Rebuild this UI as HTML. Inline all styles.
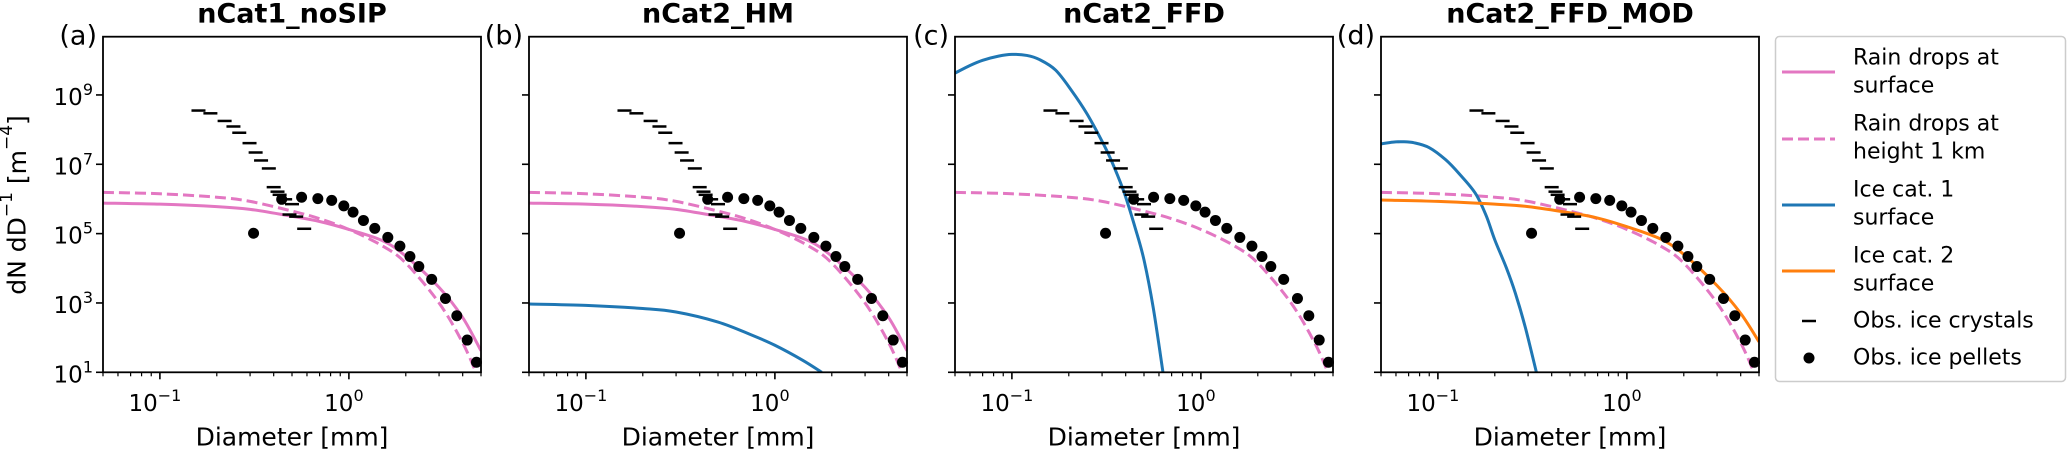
<!DOCTYPE html>
<html><head><meta charset="utf-8">
<style>
body{margin:0;background:#fff;}
svg{display:block;font-family:"DejaVu Sans","Liberation Sans",sans-serif;}
</style></head>
<body>
<svg id="chart" width="2067" height="450" viewBox="0 0 2067 450" xmlns="http://www.w3.org/2000/svg">
<g id="panels"></g>
<text x="17" y="205" transform="rotate(-90 17 205)" text-anchor="middle" dominant-baseline="central" font-size="25">dN dD<tspan dy="-10" font-size="17">−1</tspan><tspan dy="10"> [m</tspan><tspan dy="-10" font-size="17">−4</tspan><tspan dy="10">]</tspan></text>
<g>
<rect x="1775.5" y="36.5" width="290" height="345" rx="4" fill="#fff" stroke="#ccc" stroke-width="1.5"/>
<g>
<line x1="1782" y1="72" x2="1835" y2="72" stroke="#e377c2" stroke-width="3"/>
<text x="1853" y="58" font-size="22" dominant-baseline="central">Rain drops at</text>
<text x="1853" y="86" font-size="22" dominant-baseline="central">surface</text></g>
<g>
<line x1="1782" y1="139" x2="1835" y2="139" stroke="#e377c2" stroke-width="3" stroke-dasharray="11,5"/>
<text x="1853" y="124" font-size="22" dominant-baseline="central">Rain drops at</text>
<text x="1853" y="152" font-size="22" dominant-baseline="central">height 1 km</text></g>
<g>
<line x1="1782" y1="205" x2="1835" y2="205" stroke="#1f77b4" stroke-width="3"/>
<text x="1853" y="190" font-size="22" dominant-baseline="central">Ice cat. 1</text>
<text x="1853" y="218" font-size="22" dominant-baseline="central">surface</text></g>
<g>
<line x1="1782" y1="271" x2="1835" y2="271" stroke="#ff7f0e" stroke-width="3"/>
<text x="1853" y="256" font-size="22" dominant-baseline="central">Ice cat. 2</text>
<text x="1853" y="284" font-size="22" dominant-baseline="central">surface</text></g>
<g>
<line x1="1802" y1="321" x2="1816" y2="321" stroke="#000" stroke-width="2.5"/>
<text x="1853" y="321" font-size="22" dominant-baseline="central">Obs. ice crystals</text></g>
<g>
<circle cx="1809" cy="358" r="5.5" fill="#000"/>
<text x="1853" y="358" font-size="22" dominant-baseline="central">Obs. ice pellets</text></g>
</g>
</svg>
<script>
// ---- data ----
const panelTitles = ["nCat1_noSIP","nCat2_HM","nCat2_FFD","nCat2_FFD_MOD"];
const panelLabels = ["(a)","(b)","(c)","(d)"];
const xTickValues = [0.1, 1];
const xTickLabels = ["−1","0"];
const yTickValues = [1,3,5,7,9];
const yTickLabels = ["1","3","5","7","9"];
// observed ice crystals: diameter (mm), log10 N
const crystalD = [0.16,0.185,0.22,0.245,0.263,0.298,0.321,0.343,0.377,0.40,0.419,0.43,0.46,0.50,0.485,0.526,0.58];
const crystalLogN = [8.55,8.47,8.25,8.09,7.91,7.61,7.34,7.11,6.88,6.34,6.21,6.12,5.99,5.85,5.55,5.49,5.14];
// observed ice pellets
const pelletD = [0.313,0.441,0.562,0.685,0.811,0.94,1.052,1.194,1.371,1.607,1.862,2.104,2.344,2.742,3.243,3.724,4.227,4.732];
const pelletLogN = [5.01,5.99,6.05,6.01,5.96,5.80,5.62,5.38,5.15,4.89,4.64,4.34,4.05,3.68,3.13,2.63,1.93,1.29];
// rain drops at surface
const rainSurfD = [0.05,0.1,0.2,0.3,0.5,0.7,1.0,1.5,2.0,3.0,4.0,5.0];
const rainSurfLogN = [5.88,5.85,5.78,5.70,5.50,5.35,5.12,4.80,4.35,3.45,2.58,1.62];
// rain drops at height 1 km
const rain1kmD = [0.05,0.1,0.2,0.3,0.5,0.7,1.0,1.5,2.0,3.0,4.0,4.7];
const rain1kmLogN = [6.19,6.15,6.05,5.93,5.65,5.43,5.12,4.65,4.15,3.00,1.85,1.0];
// ice cat 1 surface per panel
const iceHMD = [0.05,0.1,0.2,0.3,0.5,0.75,1.0,1.4,1.77];
const iceHMLogN = [2.97,2.93,2.84,2.74,2.45,2.08,1.78,1.35,1.0];
const iceFFDD = [0.05,0.06,0.07,0.085,0.1,0.12,0.14,0.17,0.206,0.25,0.31,0.35,0.394,0.45,0.5,0.56,0.63];
const iceFFDLogN = [9.63,9.85,10.0,10.12,10.17,10.14,10.02,9.72,9.14,8.45,7.51,6.88,6.16,5.15,4.24,2.85,1.0];
const iceMODD = [0.05,0.058,0.065,0.075,0.09,0.11,0.13,0.158,0.18,0.2,0.23,0.257,0.29,0.332];
const iceMODLogN = [7.59,7.64,7.65,7.62,7.48,7.13,6.72,6.16,5.52,4.82,4.02,3.28,2.30,1.0];
// ice cat 2 surface (panel d)
const ice2D = [0.05,0.1,0.2,0.3,0.5,0.7,1.0,1.5,2.0,3.0,4.0,5.0];
const ice2LogN = [5.97,5.93,5.85,5.78,5.60,5.45,5.20,4.85,4.40,3.50,2.70,1.88];

// ---- layout ----
const NS = "http://www.w3.org/2000/svg";
const panelLeft = [103,529,955,1381];
const PW = 378, TOP = 36.7, BOT = 372.3;
const XMIN = Math.log10(0.05), XMAX = Math.log10(5), YMIN = 1, YMAX = 10.68;
function mk(tag, attrs, parent){const e=document.createElementNS(NS,tag);for(const k in attrs)e.setAttribute(k,attrs[k]);parent.appendChild(e);return e;}
function sx(p, d){return panelLeft[p] + (Math.log10(d)-XMIN)/(XMAX-XMIN)*PW;}
function sy(l){return BOT - (l-YMIN)/(YMAX-YMIN)*(BOT-TOP);}
function smoothPath(pts){
  let d = "M"+pts[0][0].toFixed(2)+","+pts[0][1].toFixed(2);
  for(let i=0;i<pts.length-1;i++){
    const p0=pts[Math.max(0,i-1)],p1=pts[i],p2=pts[i+1],p3=pts[Math.min(pts.length-1,i+2)];
    const c1=[p1[0]+(p2[0]-p0[0])/6,p1[1]+(p2[1]-p0[1])/6];
    const c2=[p2[0]-(p3[0]-p1[0])/6,p2[1]-(p3[1]-p1[1])/6];
    d+=" C"+c1[0].toFixed(2)+","+c1[1].toFixed(2)+" "+c2[0].toFixed(2)+","+c2[1].toFixed(2)+" "+p2[0].toFixed(2)+","+p2[1].toFixed(2);
  }
  return d;
}
const root = document.getElementById("panels");
function curve(g,p,xs,ys,color,dash,name){
  const pts = xs.map((x,i)=>[sx(p,x),sy(ys[i])]);
  const el = mk("path",{d:smoothPath(pts),fill:"none",stroke:color,"stroke-width":3},g);
  if(dash) el.setAttribute("stroke-dasharray",dash);
  
  
}
for(let p=0;p<4;p++){
  const g = mk("g",{},root);
  
  
  const L = panelLeft[p];
  const cid = "clip"+p;
  const cp = mk("clipPath",{id:cid},g);
  mk("rect",{x:L,y:TOP,width:PW,height:BOT-TOP},cp);
  const t = mk("text",{x:L+PW/2,y:14,"text-anchor":"middle","dominant-baseline":"central","font-size":27,"font-weight":"bold"},g);
  t.textContent = panelTitles[p];
  
  
  const lb = mk("text",{x:L-6,y:36,"text-anchor":"end","dominant-baseline":"central","font-size":27},g);
  lb.textContent = panelLabels[p];
  
  
  for(let dec=-2;dec<=0;dec++){
    for(let m=1;m<=9;m++){
      const v=m*Math.pow(10,dec);
      if(v<0.0499||v>5.01) continue;
      const x=sx(p,v), major=(m===1);
      const tk=mk("line",{x1:x,y1:BOT,x2:x,y2:BOT+(major?7:4),stroke:"#000","stroke-width":major?1.6:1.2},g);
      
      
    }
  }
  xTickValues.forEach((v,i)=>{
    const tx=mk("text",{x:sx(p,v)-5,y:404,"text-anchor":"middle","dominant-baseline":"central","font-size":23},g);
    tx.innerHTML = "10<tspan dy='-9' font-size='16'>"+xTickLabels[i]+"</tspan>";
    
    
  });
  const xt=mk("text",{x:L+PW/2,y:437,"text-anchor":"middle","dominant-baseline":"central","font-size":25},g);
  xt.textContent="Diameter [mm]";
  
  
  yTickValues.forEach((v,i)=>{
    const y=sy(v);
    const tk=mk("line",{x1:L-7,y1:y,x2:L,y2:y,stroke:"#000","stroke-width":1.6},g);
    
    
    if(p===0){
      const ty=mk("text",{x:L-10,y:y+3,"text-anchor":"end","dominant-baseline":"central","font-size":23},g);
      ty.innerHTML="10<tspan dy='-9' font-size='16'>"+yTickLabels[i]+"</tspan>";
      
      
    }
  });
  const plot = mk("g",{"clip-path":"url(#"+cid+")"},g);
  
  
  if(p===0||p===1) curve(plot,p,rainSurfD,rainSurfLogN,"#e377c2",null,"rain-surface-line");
  curve(plot,p,rain1kmD,rain1kmLogN,"#e377c2","11,5","rain-1km-line");
  if(p===1) curve(plot,p,iceHMD,iceHMLogN,"#1f77b4",null,"ice-cat1-line");
  if(p===2) curve(plot,p,iceFFDD,iceFFDLogN,"#1f77b4",null,"ice-cat1-line");
  if(p===3){ curve(plot,p,iceMODD,iceMODLogN,"#1f77b4",null,"ice-cat1-line");
             curve(plot,p,ice2D,ice2LogN,"#ff7f0e",null,"ice-cat2-line"); }
  crystalD.forEach((d,i)=>{
    const x=sx(p,d), y=sy(crystalLogN[i]);
    const m=mk("line",{x1:x-7,y1:y,x2:x+7,y2:y,stroke:"#000","stroke-width":2.5},g);
    
    
  });
  pelletD.forEach((d,i)=>{
    const c=mk("circle",{cx:sx(p,d),cy:sy(pelletLogN[i]),r:5.5,fill:"#000"},g);
    
    
  });
  const fr=mk("rect",{x:L,y:TOP,width:PW,height:BOT-TOP,fill:"none",stroke:"#000","stroke-width":1.8},g);
  
  
}
</script>
</body></html>
